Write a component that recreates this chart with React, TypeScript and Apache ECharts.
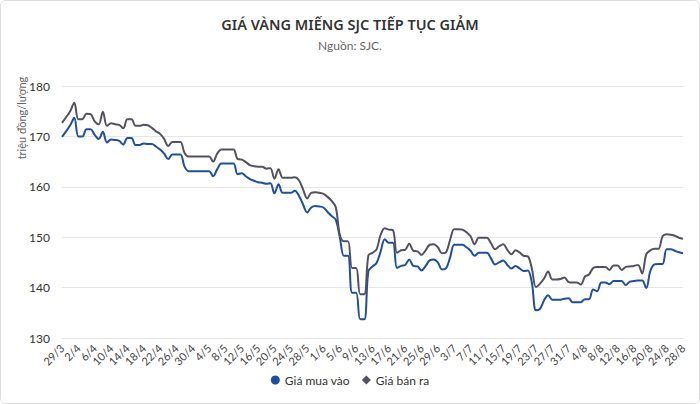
import { useEffect, useRef } from 'react';
import * as echarts from 'echarts';

// daily categories 29/3 -> 28/8
const startDays: [number, number][] = [
  [3, 29], [4, 1], [5, 1], [6, 1], [7, 1], [8, 1],
];
const monthLengths: Record<number, number> = { 3: 31, 4: 30, 5: 31, 6: 30, 7: 31, 8: 28 };
const categories: string[] = [];
startDays.forEach(([m, d0]) => {
  for (let d = d0; d <= monthLengths[m]; d++) categories.push(`${d}/${m}`);
});

const yTicks = [130, 140, 150, 160, 170, 180];

// Giá mua vào (triệu đồng/lượng)
const buyPrices = [
  169.9, 171.0, 172.2, 173.7, 170.0, 170.0, 171.4, 171.4, 170.3, 169.5,
  170.9, 168.8, 169.4, 169.3, 169.1, 168.4, 169.7, 169.7, 168.3, 168.3,
  168.6, 168.5, 168.5, 168.0, 167.4, 166.6, 165.5, 166.4, 166.4, 166.4,
  164.0, 163.1, 163.1, 163.1, 163.1, 163.1, 163.1, 162.1, 163.5, 164.6,
  164.6, 164.6, 164.6, 162.5, 162.7, 162.1, 161.5, 161.2, 160.9, 160.8,
  160.6, 160.7, 158.7, 160.5, 158.8, 158.8, 158.8, 159.2, 158.2, 156.5,
  154.9, 155.9, 156.2, 156.1, 155.9, 155.0, 154.2, 153.5, 150.0, 146.3,
  146.3, 139.0, 139.0, 133.7, 133.7, 143.3, 144.2, 144.9, 147.2, 149.6,
  148.9, 148.9, 143.9, 144.3, 144.5, 145.6, 144.3, 144.2, 143.4, 144.3,
  145.4, 145.6, 145.0, 143.6, 143.8, 146.0, 148.5, 148.5, 148.5, 148.0,
  147.3, 146.3, 146.9, 146.9, 146.9, 145.8, 144.6, 145.0, 145.4, 144.5,
  143.8, 144.3, 143.8, 143.3, 143.4, 141.0, 135.5, 135.8, 137.5, 138.5,
  137.6, 137.6, 137.6, 137.8, 137.9, 137.1, 137.1, 137.1, 137.7, 137.7,
  139.6, 139.3, 141.0, 141.0, 140.7, 141.3, 141.3, 141.3, 140.5, 141.2,
  141.3, 141.4, 141.4, 139.9, 143.3, 144.6, 144.7, 144.7, 147.6, 147.6,
  147.3, 147.0, 146.8,
];

// Giá bán ra (triệu đồng/lượng)
const sellPrices = [
  172.7, 173.8, 175.0, 176.7, 173.4, 173.4, 174.5, 174.4, 173.0, 172.4,
  174.9, 172.1, 172.6, 172.4, 172.3, 171.6, 173.4, 173.4, 172.1, 172.1,
  172.3, 172.2, 171.7, 171.0, 170.5, 169.5, 168.1, 168.9, 168.9, 168.9,
  166.7, 166.0, 166.0, 166.0, 166.0, 166.0, 166.0, 165.0, 166.6, 167.4,
  167.4, 167.4, 167.4, 165.5, 165.4, 164.9, 164.3, 164.1, 164.0, 164.0,
  163.6, 163.7, 161.6, 163.5, 161.8, 161.8, 161.8, 161.9, 161.3, 159.5,
  157.7, 158.8, 158.9, 158.8, 158.6, 158.0, 157.2, 156.0, 150.5, 149.2,
  149.2, 143.9, 143.9, 138.7, 138.7, 146.4, 146.9, 147.6, 150.5, 151.8,
  151.5, 151.4, 146.9, 147.4, 147.5, 148.7, 147.3, 147.2, 146.5, 147.4,
  148.5, 148.6, 148.0, 146.8, 147.0, 149.5, 151.6, 151.6, 151.5, 151.0,
  150.2, 148.6, 149.9, 149.9, 149.9, 148.8, 147.6, 148.2, 148.6, 147.5,
  146.6, 147.4, 147.0, 146.3, 146.2, 143.8, 140.1, 140.8, 141.8, 143.2,
  141.6, 141.6, 141.7, 142.0, 141.1, 141.0, 141.0, 140.6, 142.2, 142.6,
  143.9, 144.1, 144.1, 144.1, 143.5, 144.4, 144.4, 143.5, 144.1, 144.2,
  144.3, 144.5, 142.8, 146.6, 147.4, 147.7, 147.7, 150.2, 150.6, 150.5,
  150.3, 149.9, 149.7,
];

const seriesNames = ['Giá mua vào', 'Giá bán ra'];
const BLUE = '#1d4f9e';
const GRAY = '#52515f';

export default function App() {
  const chartRef = useRef<HTMLDivElement>(null);

  useEffect(() => {
    document.body.style.margin = '0';
    if (!chartRef.current) return;
    const chart = echarts.init(chartRef.current, null, { renderer: 'svg' });

    const option: echarts.EChartsOption = {
      animation: false,
      backgroundColor: '#ffffff',
      title: {
        text: 'GIÁ VÀNG MIẾNG SJC TIẾP TỤC GIẢM',
        subtext: 'Nguồn: SJC.',
        left: 'center',
        top: 10,
        itemGap: 8,
        textStyle: {
          fontFamily: 'Noto Sans',
          fontSize: 14.5,
          fontWeight: 600,
          color: '#333333',
        },
        subtextStyle: {
          fontFamily: 'Lato',
          fontSize: 12,
          color: '#666666',
        },
      },
      legend: {
        bottom: 12,
        left: 'center',
        itemWidth: 9,
        itemHeight: 9,
        itemGap: 12,
        textStyle: { fontFamily: 'Lato', fontSize: 12, color: '#333333' },
        data: [
          { name: seriesNames[0], icon: 'circle' },
          { name: seriesNames[1], icon: 'diamond' },
        ],
      },
      grid: {
        left: 61,
        right: 16,
        top: 85,
        height: 252,
        containLabel: false,
      },
      xAxis: {
        type: 'category',
        data: categories,
        boundaryGap: false,
        axisLine: { lineStyle: { color: '#e6e6e6' } },
        axisTick: { show: false },
        axisLabel: {
          interval: 3,
          rotate: 45,
          margin: 8,
          fontFamily: 'Lato',
          fontSize: 11,
          color: '#444444',
        },
      },
      yAxis: {
        type: 'value',
        min: yTicks[0],
        max: yTicks[yTicks.length - 1],
        interval: 10,
        axisLine: { show: false },
        axisTick: { show: false },
        splitLine: { lineStyle: { color: '#e6e6e6' } },
        axisLabel: {
          margin: 12,
          fontFamily: 'Lato',
          fontSize: 12,
          color: '#333333',
        },
      },
      graphic: [
        {
          type: 'text',
          x: 20,
          y: 117,
          rotation: Math.PI / 2,
          style: {
            text: 'triệu đồng/lượng',
            fontFamily: 'Lato',
            fontSize: 11,
            fill: '#666666',
            align: 'center',
            verticalAlign: 'middle',
          },
        },
      ],
      series: [
        {
          name: seriesNames[0],
          type: 'line',
          data: buyPrices,
          smooth: 0.35,
          showSymbol: false,
          symbol: 'circle',
          itemStyle: { color: BLUE },
          lineStyle: { width: 2, color: BLUE },
        },
        {
          name: seriesNames[1],
          type: 'line',
          data: sellPrices,
          smooth: 0.35,
          showSymbol: false,
          symbol: 'diamond',
          itemStyle: { color: GRAY },
          lineStyle: { width: 2, color: GRAY },
        },
      ],
    };

    chart.setOption(option);
    return () => {
      chart.dispose();
    };
  }, []);

  return (
    <div
      style={{
        width: 700,
        height: 404,
        boxSizing: 'border-box',
        border: '1px solid #dddddd',
        borderRadius: 6,
        overflow: 'hidden',
      }}
    >
      <div ref={chartRef} style={{ width: '100%', height: '100%' }} />
    </div>
  );
}
